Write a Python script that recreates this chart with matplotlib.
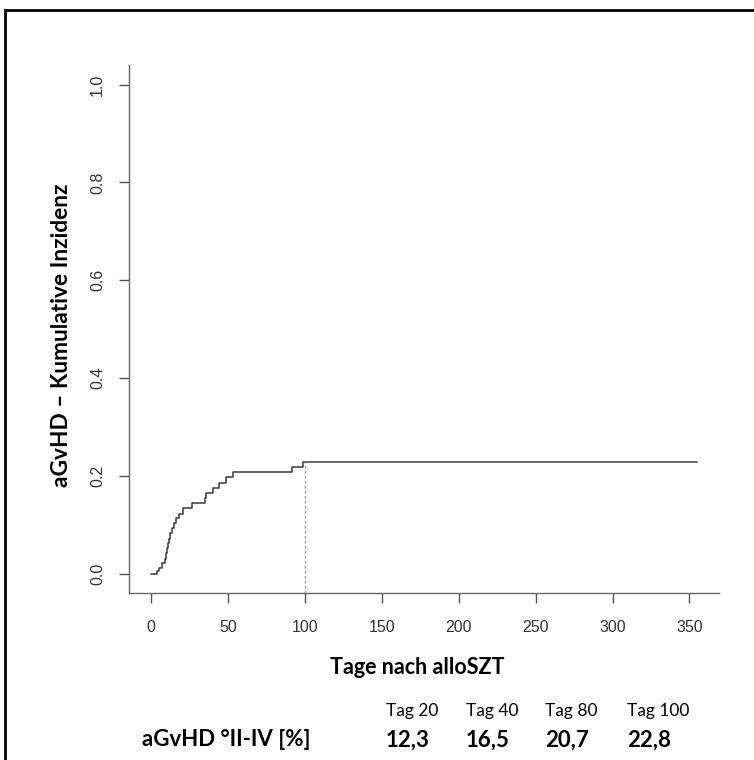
import matplotlib.pyplot as plt
from matplotlib.lines import Line2D

# Kumulative Inzidenz aGvHD (Stufenfunktion)
event_days = [0, 4, 5.5, 7.5, 9, 10, 10.7, 11.2, 11.8, 12.5, 14, 15, 16.1, 18.2,
              21.1, 26.9, 35.2, 35.8, 40.5, 44.3, 48.7, 53.7, 92, 98.6, 355]
incidence = [0, 0.005, 0.011, 0.021, 0.031, 0.042, 0.052, 0.062, 0.072, 0.083,
             0.093, 0.103, 0.113, 0.123, 0.134, 0.144, 0.155, 0.165, 0.176,
             0.186, 0.197, 0.207, 0.218, 0.228, 0.228]
marker_day = 100
marker_value = 0.228

x_ticks = [0, 50, 100, 150, 200, 250, 300, 350]
y_ticks = [0.0, 0.2, 0.4, 0.6, 0.8, 1.0]

table_days = ['Tag 20', 'Tag 40', 'Tag 80', 'Tag 100']
table_values = ['12,3', '16,5', '20,7', '22,8']

W, H = 754, 760
fig = plt.figure(figsize=(W / 100, H / 100), dpi=100)
ax = fig.add_axes([129 / W, 1 - 593.3 / H, 590 / W, (593.3 - 65) / H])

ax.step(event_days, incidence, where='post', color='#3a3a3a', linewidth=1.1)
ax.vlines(marker_day, -0.04, marker_value, colors='#9a9a9a',
          linestyles=(0, (2, 2)), linewidth=0.9)

ax.set_xlim(-14.2, 369.2)
ax.set_ylim(-0.04, 1.04)
ax.set_xticks(x_ticks)
ax.set_yticks(y_ticks)
ax.set_xticklabels([str(t) for t in x_ticks], fontfamily='Liberation Sans', fontsize=11.5, color='#333333')
ax.set_yticklabels([f'{t:.1f}' for t in y_ticks], fontfamily='Liberation Sans', fontsize=11.5,
                   color='#333333', rotation=90, va='center')
ax.tick_params(axis='x', direction='out', length=7.2, width=1, color='#555555', pad=12)
ax.tick_params(axis='y', direction='out', length=7.2, width=1, color='#555555', pad=10)

for s in ['top', 'right']:
    ax.spines[s].set_visible(False)
for s in ['left', 'bottom']:
    ax.spines[s].set_color('#666666')
    ax.spines[s].set_linewidth(1)

fig.text(62 / W, 1 - 335 / H, 'aGvHD – Kumulative Inzidenz', fontfamily='Lato',
         fontweight='bold', fontsize=16.3, rotation=90, ha='center', va='center')
fig.text(417 / W, 1 - 668 / H, 'Tage nach alloSZT', fontfamily='Lato', fontweight='bold',
         fontsize=15.5, ha='center', va='center')

# Tabelle unten
fig.text(142 / W, 1 - 740 / H, 'aGvHD °II-IV [%]', fontfamily='Lato', fontweight='bold',
         fontsize=16, ha='left', va='center')
for xp, d, v in zip([386, 466, 545, 627], table_days, table_values):
    fig.text(xp / W, 1 - 711 / H, d, fontfamily='Lato', fontsize=12.5, ha='left', va='center')
    fig.text(xp / W, 1 - 740 / H, v, fontfamily='Lato', fontweight='bold', fontsize=16,
             ha='left', va='center')

# Rahmen
fig.add_artist(Line2D([5 / W, 5 / W], [0, 1 - 10 / H], color='black', linewidth=2))
fig.add_artist(Line2D([5 / W, 1], [1 - 10 / H, 1 - 10 / H], color='black', linewidth=2))

fig.savefig('out.png', dpi=100)
